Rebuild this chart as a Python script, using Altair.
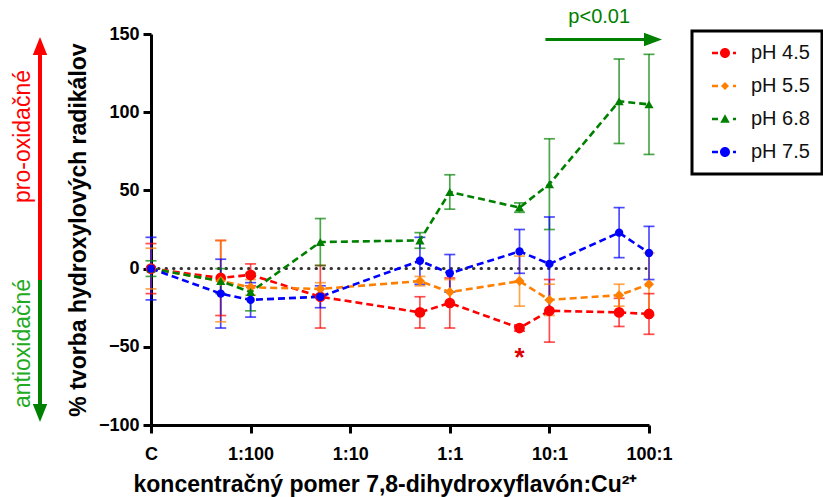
import altair as alt
import pandas as pd

# ---------------- data ----------------
x_positions = [0, 0.7, 1, 1.7, 2.7, 3, 3.7, 4, 4.7, 5]
tick_values = [0, 1, 2, 3, 4, 5]
tick_labels = ["C", "1:100", "1:10", "1:1", "10:1", "100:1"]
series = ["pH 4.5", "pH 5.5", "pH 6.8", "pH 7.5"]

ph45 = [0, -6, -4, -18, -28, -22, -38, -27, -28, -29]
ph45_err = [16, 24, 7, 20, 10, 16, 2, 20, 9, 13]
ph55 = [0, -8, -12, -13, -8, -15, -8, -20, -17, -10]
ph55_err = [13, 26, 5, 4, 3, 8, 16, 10, 7, 20]
ph68 = [0, -8, -15, 17, 18, 49, 39, 54, 107, 105]
ph68_err = [5, 8, 12, 15, 5, 11, 3, 29, 27, 32]
ph75 = [0, -16, -20, -18, 5, -3, 11, 3, 23, 10]
ph75_err = [20, 22, 11, 7, 15, 12, 14, 30, 16, 17]

significant_x = [3.7]
significant_y = [-62]

colors = ["#ff0000", "#ff7f00", "#008000", "#0000ff"]
shapes = ["circle", "diamond", "triangle-up", "circle"]
sizes = [115, 70, 120, 95]

# legend symbols: dash + marker + dot
circle_p = ("M-2.6,-0.25 L-1.4,-0.25 L-1.4,0.25 L-2.6,0.25 Z "
            "M1,0 A1,1 0 1,1 -1,0 A1,1 0 1,1 1,0 Z "
            "M1.6,-0.25 L2.2,-0.25 L2.2,0.25 L1.6,0.25 Z")
diamond_p = ("M-2.6,-0.25 L-1.4,-0.25 L-1.4,0.25 L-2.6,0.25 Z "
             "M0,-0.8 L0.8,0 L0,0.8 L-0.8,0 Z "
             "M1.6,-0.25 L2.2,-0.25 L2.2,0.25 L1.6,0.25 Z")
triangle_p = ("M-2.6,-0.25 L-1.4,-0.25 L-1.4,0.25 L-2.6,0.25 Z "
              "M0,-0.95 L0.95,0.75 L-0.95,0.75 Z "
              "M1.6,-0.25 L2.2,-0.25 L2.2,0.25 L1.6,0.25 Z")
legend_paths = [circle_p, diamond_p, triangle_p, circle_p]

rows = []
for name, vals, errs in zip(series, [ph45, ph55, ph68, ph75],
                            [ph45_err, ph55_err, ph68_err, ph75_err]):
    for xv, v, e in zip(x_positions, vals, errs):
        rows.append({"series": name, "x": xv, "value": v, "lo": v - e, "hi": v + e})
df = pd.DataFrame(rows)

FONT = "Liberation Sans"
y_title = "% tvorba hydroxylových radikálov"
x_title = "koncentračný pomer 7,8-dihydroxyflavón:Cu²⁺"

label_expr = "[" + ",".join("'" + t + "'" for t in tick_labels) + "][datum.value]"

x_axis = alt.Axis(values=tick_values, labelExpr=label_expr, title=x_title, labelPadding=12,
                  labelFlush=False,
                  titleX=-18, titleY=66, titleAlign="left", titleBaseline="alphabetic")
y_axis = alt.Axis(values=[-100, -50, 0, 50, 100, 150], title=y_title, labelFlush=False,
                  titleX=-61, titleY=195.5, titleAngle=270, titleBaseline="bottom",
                  titleAlign="center")
x_scale = alt.Scale(domain=[0, 5], nice=False, zero=False)
y_scale = alt.Scale(domain=[-100, 150], nice=False, zero=False)

def X(field):
    return alt.X(field, type="quantitative", scale=x_scale, axis=x_axis)

def Y(field):
    return alt.Y(field, type="quantitative", scale=y_scale, axis=y_axis)

color_enc = alt.Color("series:N", scale=alt.Scale(domain=series, range=colors), legend=None)

base = alt.Chart(df)

zero_line = alt.Chart(pd.DataFrame({"x0": [0], "x1": [4.97], "y": [0]})).mark_rule(
    color="#333333", strokeWidth=3, strokeDash=[0.5, 7], strokeCap="round"
).encode(x=X("x0"), x2="x1", y=Y("y"))

err_rules = base.mark_rule(strokeWidth=1.7, opacity=0.7).encode(
    x=X("x"), y=Y("lo"), y2="hi", color=color_enc)

caps = base.transform_fold(["lo", "hi"], as_=["end", "cap"]).mark_tick(
    orient="horizontal", size=11, thickness=1.7, opacity=0.7
).encode(x=X("x"), y=Y("cap"), color=color_enc)

lines = base.mark_line(strokeDash=[7, 4], strokeWidth=2.6).encode(
    x=X("x"), y=Y("value"), color=color_enc, order="x:Q")

points = base.mark_point(filled=True, opacity=1).encode(
    x=X("x"), y=Y("value"), color=color_enc,
    shape=alt.Shape("series:N", scale=alt.Scale(domain=series, range=shapes), legend=None),
    size=alt.Size("series:N", scale=alt.Scale(domain=series, range=sizes), legend=None))

leg = alt.Legend(title=None, orient="none", legendX=541, legendY=-3,
                 strokeColor="black", fillColor="white", padding=12,
                 rowPadding=13, symbolSize=100, symbolOffset=11, labelOffset=16,
                 labelFont=FONT, labelFontSize=20, labelColor="#111111",
                 symbolOpacity=1, symbolStrokeWidth=0)
legend_layer = base.mark_point(filled=True, opacity=0).encode(
    x=X("x"), y=Y("value"),
    color=alt.Color("series:N", scale=alt.Scale(domain=series, range=colors), legend=leg),
    shape=alt.Shape("series:N", scale=alt.Scale(domain=series, range=legend_paths), legend=leg))

star = alt.Chart(pd.DataFrame({"x": significant_x, "y": significant_y})).mark_text(
    text="*", color="#e00000", fontSize=26, fontWeight="bold", font=FONT,
    baseline="alphabetic").encode(x=X("x"), y=Y("y"))

# p<0.01 arrow (data coords)
p_arrow = alt.Chart(pd.DataFrame({"x0": [3.96], "x1": [4.97], "y": [146.5]})).mark_rule(
    color="#008000", strokeWidth=3).encode(x=X("x0"), x2="x1", y=Y("y"))
p_head = alt.Chart(pd.DataFrame({"x": [5.04], "y": [146.5]})).mark_point(
    shape="M-1,-0.75 L1,0 L-1,0.75 Z", filled=True, opacity=1, size=324, color="#008000"
).encode(x=X("x"), y=Y("y"))
p_text = alt.Chart(pd.DataFrame({"x": [4.5], "y": [161]})).mark_text(
    text="p<0.01", color="#008000", fontSize=20, font=FONT, baseline="middle"
).encode(x=X("x"), y=Y("y"))

# side arrows (outside the plot, pixel positions)
red_line = alt.Chart(pd.DataFrame({"a": [0]})).mark_rule(color="#ff0000", strokeWidth=4).encode(
    x=alt.value(-111), y=alt.value(18), y2=alt.value(246))
red_head = alt.Chart(pd.DataFrame({"a": [0]})).mark_point(
    shape="M0,-1 L0.8,1 L-0.8,1 Z", filled=True, opacity=1, size=324, color="#ff0000"
).encode(x=alt.value(-111), y=alt.value(12))
green_line = alt.Chart(pd.DataFrame({"a": [0]})).mark_rule(color="#008000", strokeWidth=4).encode(
    x=alt.value(-111), y=alt.value(246), y2=alt.value(373))
green_head = alt.Chart(pd.DataFrame({"a": [0]})).mark_point(
    shape="M0,1 L0.8,-1 L-0.8,-1 Z", filled=True, opacity=1, size=324, color="#008000"
).encode(x=alt.value(-111), y=alt.value(379))
pro_text = alt.Chart(pd.DataFrame({"a": [0]})).mark_text(
    text="pro-oxidačné", angle=270, color="#ff0000", fontSize=23, font=FONT,
    baseline="middle", align="left").encode(x=alt.value(-128), y=alt.value(169))
anti_text = alt.Chart(pd.DataFrame({"a": [0]})).mark_text(
    text="antioxidačné", angle=270, color="#22aa22", fontSize=23, font=FONT,
    baseline="middle", align="left").encode(x=alt.value(-128), y=alt.value(374))

chart = alt.layer(
    zero_line, err_rules, caps, lines, points, legend_layer, star,
    p_arrow, p_head, p_text, red_line, red_head, green_line, green_head, pro_text, anti_text
).resolve_scale(color="independent", shape="independent", size="independent").properties(
    width=498, height=391,
    padding={"left": 151, "top": 34, "right": 174, "bottom": 72},
    autosize=alt.AutoSizeParams(type="none"),
).configure_view(stroke=None).configure_axis(
    grid=False, domainColor="black", domainWidth=3, tickColor="black", tickWidth=3,
    tickSize=8, labelFont=FONT, labelFontWeight="bold", labelFontSize=18,
    labelColor="black", labelPadding=4, titleFont=FONT, titleFontWeight="bold",
    titleFontSize=23, titleColor="black"
).configure_legend(strokeWidth=3, cornerRadius=0)

chart.save("out.html", embed_options={"renderer": "svg", "actions": False})
